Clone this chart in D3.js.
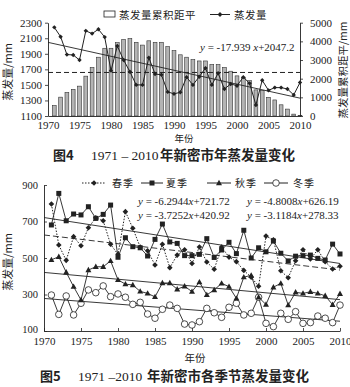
<!DOCTYPE html>
<html><head><meta charset="utf-8">
<script src="https://cdn.jsdelivr.net/npm/d3@7"></script>
<style>
body{margin:0;background:#fff;}
svg{display:block;}
</style></head><body>
<svg id="c" width="350" height="387"></svg>
<script>
// ---------- data ----------
const years = d3.range(1971, 2011);
const evaporation = [2240,2120,1890,1885,1820,2195,2160,2215,2115,1683,2000,1820,1670,1500,1500,1850,1640,1630,1410,1385,
                     1405,1600,1500,1605,1716,1500,1650,1447,1512,1490,1600,1520,1242,1560,1430,1465,1465,1448,1371,1530];
const cumAnomaly = [560,1010,1260,1430,1600,2135,2600,3150,3630,3630,3930,4100,4150,3950,3800,4030,3950,3950,3720,3500,
                    3280,3150,3020,2950,2950,2760,2760,2600,2400,2150,2080,1900,1400,1370,1000,860,600,370,100,20];
const evapMean = [1660];
const evapTrend = [-17.939, 2047.2];

const spring = [796,571,487,617,567,666,720,704,575,520,754,663,560,540,462,575,447,516,545,470,
                560,478,438,560,505,480,432,395,345,620,600,430,392,485,545,495,545,480,440,455];
const summer = [681,854,704,741,736,781,717,739,790,504,611,562,556,511,602,686,588,580,513,513,
                520,606,503,544,586,524,652,500,556,534,593,526,484,510,513,516,498,489,576,522];
const autumn = [490,507,422,343,270,434,452,452,484,380,357,352,317,306,287,363,363,329,345,316,
                368,298,325,361,343,279,395,405,285,245,340,361,242,312,306,315,306,293,244,304];
const winter = [297,191,292,188,252,325,310,347,288,303,285,246,257,193,170,219,242,224,138,133,
                151,224,200,175,230,252,188,197,285,142,124,197,164,206,142,146,182,170,146,242];
const seasonNames = ["春季","夏季","秋季","冬季"];
const seasonSlopes = [-4.8008, -6.2944, -3.7252, -3.1184];
const seasonIntercepts = [626.19, 721.72, 420.92, 278.33];
const seasonEqLabels = ["y = -6.2944x+721.72","y = -4.8008x+626.19","y = -3.7252x+420.92","y = -3.1184x+278.33"];

const xTicks = [1970,1975,1980,1985,1990,1995,2000,2005,2010];
const topLeftTicks = [1100,1300,1500,1700,1900,2100,2300];
const topRightTicks = [0,1000,2000,3000,4000,5000];
const bottomTicks = [100,300,500,700,900];

// ---------- drawing ----------
const svg = d3.select("#c");
const SERIF = "'Liberation Serif','Times New Roman',serif";
const CJK = "'Noto Sans CJK SC','Noto Sans',sans-serif";
const INK = "#222";

function styleAxis(g, fs){
  g.select(".domain").attr("stroke", INK).attr("stroke-width", 0.9);
  g.selectAll(".tick line").attr("stroke", INK).attr("stroke-width", 0.8);
  g.selectAll(".tick text").attr("fill", INK).style("font-family", SERIF).style("font-size", fs + "px");
}
function diamond(sel, cx, cy, s){
  sel.append("path").attr("d", `M${cx},${cy-s}L${cx+s},${cy}L${cx},${cy+s}L${cx-s},${cy}Z`).attr("fill", INK);
}

// ===== Figure 4 =====
const x1 = d3.scaleLinear().domain([1970, 2010]).range([48, 300]);
const yL = d3.scaleLinear().domain([1100, 2300]).range([116, 22.7]);
const yR = d3.scaleLinear().domain([0, 5000]).range([116, 22.7]);

// bars
svg.append("g").selectAll("rect").data(years).join("rect")
  .attr("x", d => x1(d) - 1.9).attr("width", 3.8)
  .attr("y", (d, i) => yR(cumAnomaly[i]))
  .attr("height", (d, i) => yR(0) - yR(cumAnomaly[i]))
  .attr("fill", "#b4b4b4").attr("stroke", "#333").attr("stroke-width", 0.6);

// mean dashed line
svg.append("line").attr("x1", x1(1970)).attr("x2", x1(2010))
  .attr("y1", yL(evapMean[0])).attr("y2", yL(evapMean[0]))
  .attr("stroke", INK).attr("stroke-width", 1).attr("stroke-dasharray", "5,3");

// trend line
svg.append("line").attr("x1", x1(1970)).attr("x2", x1(2010))
  .attr("y1", yL(evapTrend[1])).attr("y2", yL(evapTrend[0] * 40 + evapTrend[1]))
  .attr("stroke", INK).attr("stroke-width", 0.9);

// evaporation line
svg.append("path").datum(years)
  .attr("d", d3.line().x(d => x1(d)).y((d, i) => yL(evaporation[i])))
  .attr("fill", "none").attr("stroke", INK).attr("stroke-width", 1);
const ev = svg.append("g");
years.forEach((d, i) => diamond(ev, x1(d), yL(evaporation[i]), 2.2));

// axes
const gL = svg.append("g").attr("transform", "translate(48,0)")
  .call(d3.axisLeft(yL).tickValues(topLeftTicks).tickSize(3).tickSizeOuter(0).tickFormat(d3.format("d")));
styleAxis(gL, 11);
const gR = svg.append("g").attr("transform", "translate(300,0)")
  .call(d3.axisRight(yR).tickValues(topRightTicks).tickSize(3).tickSizeOuter(0).tickPadding(7).tickFormat(d3.format("d")));
styleAxis(gR, 11);
const gB = svg.append("g").attr("transform", "translate(0,116)")
  .call(d3.axisBottom(x1).tickValues(xTicks).tickSize(0).tickSizeOuter(0).tickPadding(5).tickFormat(d3.format("d")));
styleAxis(gB, 11);

// titles
svg.append("text").attr("transform", "translate(12,72) rotate(-90)").attr("text-anchor", "middle")
  .style("font-family", CJK).style("font-size", "11px").attr("fill", INK).text("蒸发量/mm");
svg.append("text").attr("transform", "translate(347,70) rotate(-90)").attr("text-anchor", "middle")
  .style("font-family", CJK).style("font-size", "10.5px").attr("fill", INK).text("蒸发量累积距平/mm");
svg.append("text").attr("x", 184).attr("y", 142).attr("text-anchor", "middle")
  .style("font-family", CJK).style("font-size", "9.5px").attr("fill", INK).text("年份");

// legend top
svg.append("rect").attr("x", 104).attr("y", 11).attr("width", 11).attr("height", 6)
  .attr("fill", "#fff").attr("stroke", INK).attr("stroke-width", 0.8);
svg.append("text").attr("x", 119).attr("y", 19).style("font-family", CJK).style("font-size", "10.5px")
  .attr("fill", INK).attr("letter-spacing", 0.5).text("蒸发量累积距平");
svg.append("line").attr("x1", 210).attr("x2", 230).attr("y1", 14.5).attr("y2", 14.5).attr("stroke", INK).attr("stroke-width", 1);
diamond(svg, 220, 14.5, 2.4);
svg.append("text").attr("x", 234).attr("y", 19).style("font-family", CJK).style("font-size", "10.5px")
  .attr("fill", INK).attr("letter-spacing", 0.5).text("蒸发量");

// equation top
const eq1 = svg.append("text").attr("x", 200).attr("y", 51).style("font-family", SERIF).style("font-size", "11px").attr("fill", INK);
eq1.append("tspan").style("font-style", "italic").text("y");
eq1.append("tspan").text(" = " + evapTrend[0] + " ");
eq1.append("tspan").style("font-style", "italic").text("x");
eq1.append("tspan").text("+" + evapTrend[1]);

// caption 4
svg.append("text").attr("x", 53).attr("y", 160).style("font-family", CJK).style("font-size", "13px")
  .style("font-weight", "bold").attr("fill", INK).text("图4");
svg.append("text").attr("x", 91).attr("y", 160).style("font-family", SERIF).style("font-size", "13.5px")
  .attr("fill", INK).text("1971 – 2010");
svg.append("text").attr("x", 160).attr("y", 160).style("font-family", CJK).style("font-size", "13.5px")
  .style("font-weight", "bold").attr("fill", INK).text("年新密市年蒸发量变化");

// ===== Figure 5 =====
const x2 = d3.scaleLinear().domain([1970, 2010]).range([44, 340]);
const y2 = d3.scaleLinear().domain([100, 900]).range([331, 185]);

// trend lines (spring dashed)
[0,1,2,3].forEach(k => {
  svg.append("line").attr("x1", x2(1970)).attr("x2", x2(2010))
    .attr("y1", y2(seasonIntercepts[k])).attr("y2", y2(seasonSlopes[k] * 40 + seasonIntercepts[k]))
    .attr("stroke", INK).attr("stroke-width", 0.9)
    .attr("stroke-dasharray", k === 0 ? "6,3" : null);
});

const seasonData = [spring, summer, autumn, winter];
const line2 = vals => d3.line().x(d => x2(d)).y((d, i) => y2(vals[i]))(years);
seasonData.forEach((vals, k) => {
  svg.append("path").attr("d", line2(vals)).attr("fill", "none").attr("stroke", INK)
    .attr("stroke-width", k === 0 ? 1 : 0.9).attr("stroke-dasharray", k === 0 ? "1.5,1.5" : null);
});

function marker(sel, k, cx, cy){
  if (k === 0) diamond(sel, cx, cy, 2.8);
  else if (k === 1) sel.append("rect").attr("x", cx - 2.5).attr("y", cy - 2.5).attr("width", 5).attr("height", 5).attr("fill", INK);
  else if (k === 2) sel.append("path").attr("d", `M${cx},${cy-3.2}L${cx+3},${cy+2.2}L${cx-3},${cy+2.2}Z`).attr("fill", INK);
  else sel.append("circle").attr("cx", cx).attr("cy", cy).attr("r", 3.3).attr("fill", "#fff").attr("stroke", INK).attr("stroke-width", 0.8);
}
[3,2,0,1].forEach(k => {
  const g = svg.append("g");
  years.forEach((d, i) => marker(g, k, x2(d), y2(seasonData[k][i])));
});

// axes
const gL2 = svg.append("g").attr("transform", "translate(44,0)")
  .call(d3.axisLeft(y2).tickValues(bottomTicks).tickSize(-3).tickSizeOuter(0).tickPadding(6).tickFormat(d3.format("d")));
styleAxis(gL2, 10.5);
gL2.selectAll(".tick text").filter(d => d === 100).attr("dy", "0.1em");
const gB2 = svg.append("g").attr("transform", "translate(0,331)")
  .call(d3.axisBottom(x2).tickValues(xTicks).tickSize(-3).tickSizeOuter(0).tickPadding(6).tickFormat(d3.format("d")));
styleAxis(gB2, 11);

svg.append("text").attr("transform", "translate(12,262) rotate(-90)").attr("text-anchor", "middle")
  .style("font-family", CJK).style("font-size", "11px").attr("fill", INK).text("蒸发量/mm");
svg.append("text").attr("x", 195).attr("y", 362).attr("text-anchor", "middle")
  .style("font-family", CJK).style("font-size", "10.5px").attr("fill", INK).text("年份");

// legend bottom
const legX = [[82,106,112],[141,163,166],[207,231,235],[264,288,293]];
legX.forEach((p, k) => {
  svg.append("line").attr("x1", p[0]).attr("x2", p[1]).attr("y1", 183).attr("y2", 183)
    .attr("stroke", INK).attr("stroke-width", 1).attr("stroke-dasharray", k === 0 ? "1.5,1.5" : null);
  marker(svg, k, (p[0] + p[1]) / 2, 183);
  svg.append("text").attr("x", p[2]).attr("y", 187).style("font-family", CJK).style("font-size", "10px")
    .attr("letter-spacing", 1).attr("fill", INK).text(seasonNames[k]);
});

// equations bottom
const eqPos = [[138,205],[247,205],[138,218.5],[247,218.5]];
seasonEqLabels.forEach((s, k) => {
  const t = svg.append("text").attr("x", eqPos[k][0]).attr("y", eqPos[k][1])
    .style("font-family", SERIF).style("font-size", "11px").attr("fill", INK);
  const m = s.match(/^y(.*?)x(.*)$/);
  t.append("tspan").style("font-style", "italic").text("y");
  t.append("tspan").text(m[1]);
  t.append("tspan").style("font-style", "italic").text("x");
  t.append("tspan").text(m[2]);
});

// caption 5
svg.append("text").attr("x", 40).attr("y", 381).style("font-family", CJK).style("font-size", "13px")
  .style("font-weight", "bold").attr("fill", INK).text("图5");
svg.append("text").attr("x", 78).attr("y", 381).style("font-family", SERIF).style("font-size", "13.5px")
  .attr("fill", INK).text("1971 –2010");
svg.append("text").attr("x", 147).attr("y", 381).style("font-family", CJK).style("font-size", "13.5px")
  .style("font-weight", "bold").attr("fill", INK).text("年新密市各季节蒸发量变化");
</script>
</body></html>
